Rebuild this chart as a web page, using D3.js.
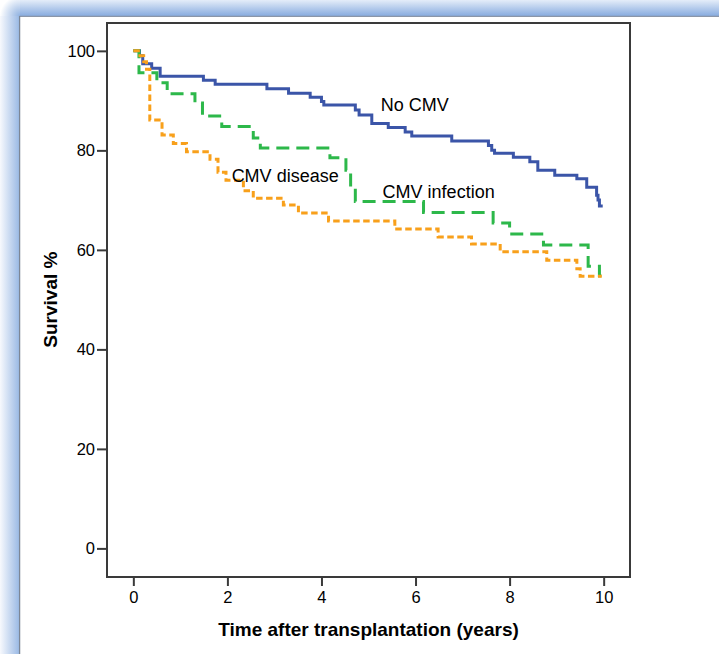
<!DOCTYPE html>
<html>
<head>
<meta charset="utf-8">
<script src="https://cdn.jsdelivr.net/npm/d3@7"></script>
<style>
  html, body { margin: 0; padding: 0; background: #ffffff; }
  svg { display: block; }
  text { font-family: "Liberation Sans", Arial, Helvetica, sans-serif; fill: #000; }
</style>
</head>
<body>
<svg id="chart" width="719" height="654"></svg>
<script>
// ---- data ----
const noCmvTime = [0, 0.13, 0.2, 0.39, 0.57, 1.49, 1.74, 2.84, 3.3, 3.76, 4.0, 4.05, 4.72, 4.8, 5.07, 5.42, 5.78, 5.92, 6.77, 7.55, 7.62, 7.68, 8.08, 8.43, 8.6, 8.96, 9.43, 9.64, 9.85, 9.88, 9.91, 9.98];
const noCmvSurv = [100, 99, 97.4, 96.5, 94.9, 94.1, 93.3, 92.4, 91.5, 90.7, 89.8, 89.1, 88.1, 87.1, 85.4, 84.6, 83.7, 82.9, 81.9, 81.0, 80.0, 79.4, 78.6, 77.7, 76.0, 75.0, 74.3, 72.6, 71.0, 70.0, 68.8, 68.8];

const infectionTime = [0, 0.12, 0.5, 0.72, 1.31, 1.47, 1.88, 2.55, 2.7, 4.18, 4.52, 4.62, 4.72, 6.17, 7.65, 8.0, 8.72, 9.67, 9.91, 9.95];
const infectionSurv = [100, 95.6, 93.6, 91.4, 89.5, 86.9, 84.8, 82.5, 80.5, 78.5, 76.0, 72.5, 69.7, 67.5, 65.4, 63.2, 61.0, 56.7, 54.8, 54.8];

const diseaseTime = [0, 0.14, 0.22, 0.28, 0.35, 0.61, 0.85, 1.13, 1.63, 1.8, 1.97, 2.34, 2.55, 3.19, 3.51, 4.15, 5.56, 6.48, 7.19, 7.8, 8.79, 9.43, 9.5, 9.96];
const diseaseSurv = [100, 99, 97.8, 96.3, 86.1, 83.1, 81.4, 79.7, 78.2, 75.6, 74.0, 71.9, 70.4, 69.0, 67.4, 65.8, 64.2, 62.6, 61.2, 59.6, 57.9, 56.2, 54.7, 54.7];

const xTicks = [0, 2, 4, 6, 8, 10];
const yTicks = [0, 20, 40, 60, 80, 100];
const seriesNames = ["No CMV", "CMV infection", "CMV disease"];
const xTitle = "Time after transplantation (years)";
const yTitle = "Survival %";

// ---- drawing ----
const svg = d3.select("#chart");
const W = 719, H = 654;

// frame (blue glow band along top and left)
const defs = svg.append("defs");
const gTop = defs.append("linearGradient").attr("id", "gTop").attr("x1", 0).attr("y1", 0).attr("x2", 0).attr("y2", 1);
gTop.append("stop").attr("offset", "0%").attr("stop-color", "#e4edf9");
gTop.append("stop").attr("offset", "100%").attr("stop-color", "#87abdf");
const gLeft = defs.append("linearGradient").attr("id", "gLeft").attr("x1", 0).attr("y1", 0).attr("x2", 1).attr("y2", 0);
gLeft.append("stop").attr("offset", "0%").attr("stop-color", "#f7f9fd");
gLeft.append("stop").attr("offset", "100%").attr("stop-color", "#97b7e4");
const gCorner = defs.append("radialGradient").attr("id", "gCorner")
  .attr("cx", 20).attr("cy", 16).attr("r", 20).attr("gradientUnits", "userSpaceOnUse");
gCorner.append("stop").attr("offset", "0%").attr("stop-color", "#8fb1e1");
gCorner.append("stop").attr("offset", "100%").attr("stop-color", "#ffffff");

svg.append("rect").attr("x", 0).attr("y", 0).attr("width", W).attr("height", H).attr("fill", "#ffffff");
svg.append("rect").attr("x", 20).attr("y", 0).attr("width", W - 20).attr("height", 16).attr("fill", "url(#gTop)");
svg.append("rect").attr("x", 0).attr("y", 16).attr("width", 20).attr("height", H - 16).attr("fill", "url(#gLeft)");
svg.append("rect").attr("x", 0).attr("y", 0).attr("width", 20).attr("height", 16).attr("fill", "url(#gCorner)");
svg.append("line").attr("x1", 19.5).attr("x2", W).attr("y1", 16.3).attr("y2", 16.3).attr("stroke", "#8b96a8").attr("stroke-width", 1.3);
svg.append("line").attr("x1", 19.6).attr("x2", 19.6).attr("y1", 16).attr("y2", H).attr("stroke", "#7d8797").attr("stroke-width", 1.3);

// scales
const x = d3.scaleLinear().domain([-0.56, 10.56]).range([107, 630]);
const y = d3.scaleLinear().domain([-5.75, 105.6]).range([577, 23]);

const axisColor = "#3a3a3a";

// plot box
svg.append("rect")
  .attr("x", x.range()[0]).attr("y", y.range()[1])
  .attr("width", x.range()[1] - x.range()[0])
  .attr("height", y.range()[0] - y.range()[1])
  .attr("fill", "none").attr("stroke", axisColor).attr("stroke-width", 2);

// axes
const xAxis = d3.axisBottom(x).tickValues(xTicks).tickSize(9).tickPadding(5).tickFormat(d3.format("d"));
const gx = svg.append("g").attr("transform", `translate(0,${y.range()[0]})`).call(xAxis);
gx.select(".domain").remove();
gx.selectAll(".tick line").attr("stroke", axisColor).attr("stroke-width", 2);
gx.selectAll(".tick text").attr("font-size", 16.5).attr("font-family", "Liberation Sans, Arial, sans-serif").attr("fill", "#000");

const yAxis = d3.axisLeft(y).tickValues(yTicks).tickSize(10).tickPadding(2).tickFormat(d3.format("d"));
const gy = svg.append("g").attr("transform", `translate(${x.range()[0]},0)`).call(yAxis);
gy.select(".domain").remove();
gy.selectAll(".tick line").attr("stroke", axisColor).attr("stroke-width", 2);
gy.selectAll(".tick text").attr("font-size", 16.5).attr("font-family", "Liberation Sans, Arial, sans-serif").attr("fill", "#000");

// curves
const line = d3.line().x(d => x(d[0])).y(d => y(d[1])).curve(d3.curveStepAfter);
const series = [
  { name: seriesNames[0], t: noCmvTime, s: noCmvSurv, color: "#3b55a8", dash: null },
  { name: seriesNames[1], t: infectionTime, s: infectionSurv, color: "#2db84a", dash: "13,7" },
  { name: seriesNames[2], t: diseaseTime, s: diseaseSurv, color: "#f8a01b", dash: "6.5,3.5" }
];
series.forEach(sr => {
  const pts = sr.t.map((t, i) => [t, sr.s[i]]);
  const p = svg.append("path").datum(pts)
    .attr("d", line).attr("fill", "none")
    .attr("stroke", sr.color).attr("stroke-width", 3)
    .attr("stroke-linejoin", "miter").attr("stroke-linecap", "butt");
  if (sr.dash) p.attr("stroke-dasharray", sr.dash);
});

// curve labels
const labelPos = [
  { text: seriesNames[0], t: 5.26, s: 88.0 },
  { text: seriesNames[1], t: 5.3, s: 70.5 },
  { text: seriesNames[2], t: 2.09, s: 73.6 }
];
labelPos.forEach(l => {
  svg.append("text").attr("x", x(l.t)).attr("y", y(l.s))
    .attr("font-size", 18).text(l.text);
});

// axis titles
svg.append("text").attr("x", (x(0) + x(10)) / 2).attr("y", 636)
  .attr("text-anchor", "middle").attr("font-size", 19).attr("font-weight", "bold").text(xTitle);
svg.append("text").attr("transform", `translate(56.5,${(y(0) + y(100)) / 2}) rotate(-90)`)
  .attr("text-anchor", "middle").attr("font-size", 19).attr("font-weight", "bold").text(yTitle);
</script>
</body>
</html>
